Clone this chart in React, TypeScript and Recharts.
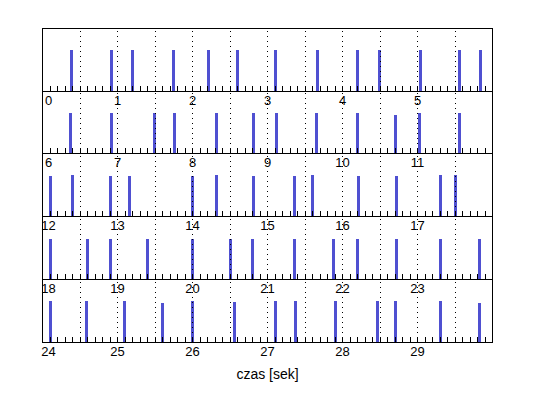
import React from 'react';
import { BarChart, Bar, XAxis, YAxis, ReferenceLine, ReferenceArea } from 'recharts';

// Spike times in seconds
const SPIKE_TIMES = [
  0.39, 0.92, 1.2, 1.74, 2.21, 2.6, 3.1, 3.67, 4.2, 4.49, 5.04, 5.56, 5.84,
  6.37, 6.91, 7.49, 7.76, 8.31, 8.81, 9.12, 9.65, 10.19, 10.7, 11.02, 11.56,
  12.11, 12.4, 12.91, 13.16, 14.0, 14.32, 14.81, 15.36, 15.6, 16.21, 16.72, 17.31, 17.51,
  18.11, 18.61, 18.91, 19.41, 20.0, 20.51, 20.8, 21.36, 21.89, 22.21, 22.72, 23.31, 23.83,
  24.11, 24.59, 25.09, 25.6, 26.0, 26.56, 27.11, 27.37, 27.91, 28.46, 28.71, 29.31, 29.82,
];
// Spike heights (arbitrary units)
const SPIKE_HEIGHTS = [
  0.98, 0.98, 0.98, 0.98, 0.98, 0.98, 0.98, 0.98, 0.98, 0.98, 0.98, 0.98, 0.98,
  0.97, 0.97, 0.97, 0.97, 0.97, 0.97, 0.97, 0.97, 0.97, 0.93, 0.97, 0.97,
  0.97, 1.0, 0.97, 0.97, 0.97, 1.0, 0.97, 0.97, 1.0, 0.97, 0.97, 1.0, 1.0,
  0.97, 0.97, 0.97, 0.97, 0.97, 0.97, 0.97, 0.97, 0.97, 0.97, 0.97, 0.97, 0.97,
  1.0, 1.0, 1.0, 0.94, 1.0, 0.97, 0.98, 0.98, 0.98, 0.98, 0.98, 0.98, 0.94,
];
const ROW_STARTS = [0, 6, 12, 18, 24];
const ROW_SECONDS = 6;
const TICK_LABELS = [
  '0', '1', '2', '3', '4', '5', '6', '7', '8', '9', '10', '11', '12', '13', '14',
  '15', '16', '17', '18', '19', '20', '21', '22', '23', '24', '25', '26', '27', '28', '29',
];
const AXIS_TITLE = 'czas [sek]';
const Y_MAX = 1.5;

// layout
const ROW_TOPS = [28, 91, 153, 216, 279, 342];
const CHART_W = 538;
const M_LEFT = 42.5;
const M_RIGHT = 45.5;
const FONT = "Arial, 'Liberation Sans', sans-serif";
const BAR_COLOR = '#4f50d1';

function Row({ idx }: { idx: number }) {
  const lo = ROW_STARTS[idx];
  const hi = lo + ROW_SECONDS;
  const plotH = ROW_TOPS[idx + 1] - ROW_TOPS[idx];
  const last = idx === ROW_STARTS.length - 1;
  const axisH = last ? 48 : 20;
  const chartH = 0.5 + plotH + axisH;
  const plotBottom = 0.5 + plotH;

  const data = SPIKE_TIMES.map((t, i) => ({ t, v: SPIKE_HEIGHTS[i] })).filter(
    (d) => d.t >= lo && d.t < hi
  );
  const majorTicks: number[] = [];
  for (let s = lo; s < hi; s++) majorTicks.push(s);
  const minorTicks: number[] = [];
  for (let i = 0; i <= ROW_SECONDS * 10; i++) minorTicks.push(Math.round((lo + i / 10) * 10) / 10);
  const dotted: number[] = [];
  for (let i = 1; i < ROW_SECONDS * 2; i++) dotted.push(lo + i / 2);

  const renderMajor = (p: any) => {
    const dx = p.index === 0 ? 6 : 0;
    return (
      <text
        x={p.x + dx}
        y={plotBottom + 13.5}
        textAnchor="middle"
        fontSize={13}
        fontFamily={FONT}
        fill="#000"
      >
        {TICK_LABELS[p.payload.value]}
      </text>
    );
  };
  const renderEmpty = () => <g />;

  return (
    <div style={{ position: 'absolute', left: 0, top: ROW_TOPS[idx], width: CHART_W, height: chartH }}>
      <BarChart
        width={CHART_W}
        height={chartH}
        data={data}
        margin={{ top: 0.5, left: M_LEFT, right: M_RIGHT, bottom: 0 }}
        style={{ overflow: 'visible' }}
      >
        <XAxis
          dataKey="t"
          type="number"
          domain={[lo, hi]}
          ticks={majorTicks}
          interval={0}
          tickLine={false}
          axisLine={{ stroke: '#000' }}
          tick={renderMajor}
          height={axisH}
          allowDataOverflow
          label={
            last
              ? {
                  value: AXIS_TITLE,
                  position: 'insideBottom',
                  offset: 11.5,
                  fontSize: 14,
                  fontFamily: FONT,
                  fill: '#000',
                }
              : undefined
          }
        />
        <XAxis
          xAxisId="minor"
          dataKey="t"
          type="number"
          domain={[lo, hi]}
          ticks={minorTicks}
          interval={0}
          mirror
          tickSize={6}
          tickLine={{ stroke: '#000' }}
          axisLine={false}
          tick={renderEmpty}
          height={10}
          allowDataOverflow
        />
        <YAxis hide width={0} domain={[0, Y_MAX]} type="number" allowDataOverflow />
        <Bar dataKey="v" fill={BAR_COLOR} barSize={3} isAnimationActive={false} />
        {dotted.map((x) => (
          <ReferenceLine key={x} x={x} stroke="#000" strokeDasharray="1 4" strokeWidth={1} />
        ))}
        <ReferenceArea x1={lo} x2={hi} y1={0} y2={Y_MAX} fill="none" stroke="#000" strokeWidth={1} />
      </BarChart>
    </div>
  );
}

export default function App() {
  return (
    <div
      style={{
        position: 'absolute',
        left: 0,
        top: 0,
        width: 538,
        height: 398,
        background: '#fff',
        overflow: 'hidden',
        shapeRendering: 'crispEdges',
      }}
    >
      {ROW_STARTS.map((_, i) => (
        <Row key={i} idx={i} />
      ))}
    </div>
  );
}
